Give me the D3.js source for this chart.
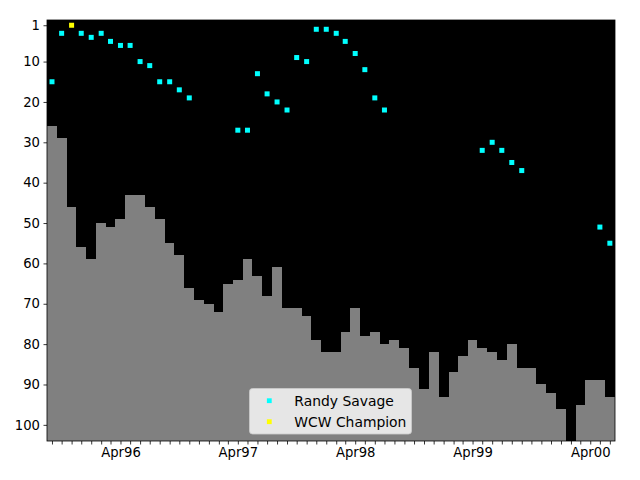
<!DOCTYPE html>
<html><head><meta charset="utf-8">
<script src="https://cdn.jsdelivr.net/npm/d3@7"></script>
<style>html,body{margin:0;padding:0;background:#fff;} svg{display:block;font-family:"DejaVu Sans",sans-serif;}</style>
</head><body><svg id="chart" width="640" height="480"></svg>
<script>
// ---- data ----
const months = [
 "1995-09","1995-10","1995-11","1995-12",
 "1996-01","1996-02","1996-03","1996-04","1996-05","1996-06","1996-07","1996-08","1996-09","1996-10","1996-11","1996-12",
 "1997-01","1997-02","1997-03","1997-04","1997-05","1997-06","1997-07","1997-08","1997-09","1997-10","1997-11","1997-12",
 "1998-01","1998-02","1998-03","1998-04","1998-05","1998-06","1998-07","1998-08","1998-09","1998-10","1998-11","1998-12",
 "1999-01","1999-02","1999-03","1999-04","1999-05","1999-06","1999-07","1999-08","1999-09","1999-10","1999-11","1999-12",
 "2000-01","2000-02","2000-03","2000-04","2000-05","2000-06"];
const backgroundRank = [
 26,29,46,56,
 59,50,51,49,43,43,46,49,55,58,66,69,
 70,72,65,64,59,63,68,61,71,71,73,79,
 82,82,77,71,78,77,80,79,81,86,91,82,
 93,87,83,79,81,82,84,80,86,86,90,92,
 96,null,95,89,89,93];
const savageRank = [
 15,3,null,3,
 4,3,5,6,6,10,11,15,15,17,19,null,
 null,null,null,27,27,13,18,20,22,9,10,2,
 2,3,5,8,12,19,22,null,null,null,null,null,
 null,null,null,null,32,30,32,35,37,null,null,null,
 null,null,null,null,51,55];
const championRank = [
 null,null,1,null,
 null,null,null,null,null,null,null,null,null,null,null,null,
 null,null,null,null,null,null,null,null,null,null,null,null,
 null,null,null,null,null,null,null,null,null,null,null,null,
 null,null,null,null,null,null,null,null,null,null,null,null,
 null,null,null,null,null,null];
const yTicks = [1,10,20,30,40,50,60,70,80,90,100];
const seriesNames = ["Randy Savage","WCW Champion"];
const seriesColors = ["#00ffff","#ffff00"];

// ---- layout ----
const L = 47, R = 615, T = 20, B = 441;
const DAY = 864e5;
const dates = months.map(d3.utcParse("%Y-%m"));
const n = dates.length;
const x = d3.scaleUtc()
  .domain([new Date(+dates[0] - 15.5*DAY), new Date(+dates[n-1] + 16*DAY)])
  .range([L, R]);
const y = d3.scaleLinear().domain([-0.3, 104]).range([T, B]);

const svg = d3.select("#chart");
svg.append("rect").attr("x",0).attr("y",0).attr("width",640).attr("height",480).attr("fill","#fff");
svg.append("rect").attr("x",L).attr("y",T).attr("width",R-L).attr("height",B-T).attr("fill","#000");

// bars
const edges = dates.map((d,i) => {
  const l = i === 0 ? x.range()[0] : (x(dates[i-1]) + x(d))/2;
  const r = i === n-1 ? x.range()[1] : (x(d) + x(dates[i+1]))/2;
  return [l, r];
});
svg.append("g").selectAll("rect")
  .data(backgroundRank.map((v,i)=>({v,i})).filter(d=>d.v!=null))
  .join("rect")
  .attr("x", d => edges[d.i][0])
  .attr("width", d => edges[d.i][1]-edges[d.i][0])
  .attr("y", d => y(d.v))
  .attr("height", d => B - y(d.v))
  .attr("fill", "#808080")
  .attr("shape-rendering","crispEdges");

// points
const ms = 5;
function drawPoints(arr, color) {
  svg.append("g").selectAll("rect")
    .data(arr.map((v,i)=>({v,i})).filter(d=>d.v!=null))
    .join("rect")
    .attr("x", d => x(dates[d.i]) - ms/2)
    .attr("y", d => y(d.v) - ms/2)
    .attr("width", ms).attr("height", ms)
    .attr("fill", color);
}
drawPoints(savageRank, seriesColors[0]);
drawPoints(championRank, seriesColors[1]);

// spines
svg.append("rect").attr("x",L).attr("y",T).attr("width",R-L).attr("height",B-T)
  .attr("fill","none").attr("stroke","#000").attr("stroke-width",0.8);

// axes
const fmtM = d3.utcFormat("%b"), fmtY = d3.utcFormat("%y");
const xAxis = d3.axisBottom(x).tickValues(dates)
  .tickFormat(d => fmtM(d) === "Apr" ? "Apr" + fmtY(d) : "")
  .tickSize(3.5).tickPadding(3.5);
const gx = svg.append("g").attr("transform",`translate(0,${B})`).call(xAxis);
const yAxis = d3.axisLeft(y).tickValues(yTicks).tickSize(3.5).tickPadding(3.5);
const gy = svg.append("g").attr("transform",`translate(${L},0)`).call(yAxis);
[gx, gy].forEach(g => {
  g.select(".domain").remove();
  g.selectAll(".tick line").attr("stroke","#000").attr("stroke-width",0.8);
  g.selectAll(".tick text").attr("fill","#000").style("font-family","DejaVu Sans").style("font-size","13.2px");
});

// legend
const lg = svg.append("g");
lg.append("rect").attr("x",249.5).attr("y",388.5).attr("width",162).attr("height",45.5)
  .attr("rx",3).attr("fill","#fff").attr("fill-opacity",0.8)
  .attr("stroke","#cccccc").attr("stroke-opacity",0.8).attr("stroke-width",1);
seriesNames.forEach((name,i) => {
  const cy = 400.7 + i*21;
  lg.append("rect").attr("x",269.3-2.4).attr("y",cy-2.4).attr("width",4.8).attr("height",4.8).attr("fill",seriesColors[i]);
  lg.append("text").attr("x",294.3).attr("y",cy+5).attr("fill","#000")
    .style("font-family","DejaVu Sans").style("font-size","13.9px").text(name);
});
</script></body></html>
